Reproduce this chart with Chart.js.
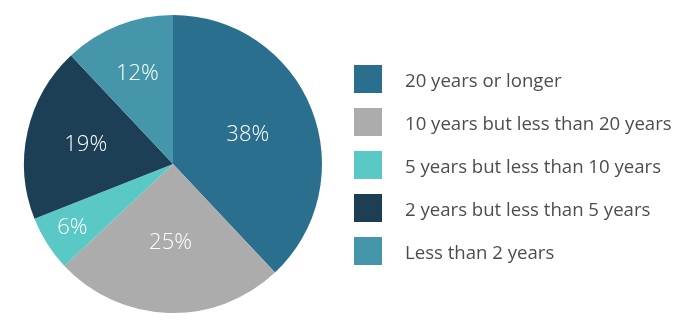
<!DOCTYPE html>
<html>
<head>
<meta charset="utf-8">
<script src="https://cdn.jsdelivr.net/npm/chart.js@4"></script>
<style>
  html, body { margin: 0; padding: 0; background: #fff; }
  .wrap { position: relative; width: 700px; height: 328px; }
  #legend { position: absolute; left: 354px; top: 65px; margin: 0; padding: 0; list-style: none;
    font-family: "Open Sans", sans-serif; font-size: 18.6px; color: #4d4d4d; }
  #legend li { display: flex; align-items: center; height: 28px; margin-bottom: 15px; }
  #legend span { width: 28px; height: 28px; margin-right: 23px; flex: none; }
</style>
</head>
<body>
<div class="wrap">
  <canvas id="chart" width="700" height="328"></canvas>
  <ul id="legend"></ul>
</div>
<script>
const labels = [
  "20 years or longer",
  "10 years but less than 20 years",
  "5 years but less than 10 years",
  "2 years but less than 5 years",
  "Less than 2 years",
]
const shares = [38, 25, 6, 19, 12]
const colors = ["#2b6f8e", "#acacac", "#5ac8c4", "#1d3f56", "#4596aa"]

// how far out each percent label sits, as a share of the radius
const labelDepth = [0.54, 0.53, 0.8, 0.6, 0.65]

const sliceLabels = {
  id: "sliceLabels",
  afterDatasetsDraw(chart) {
    const ctx = chart.ctx
    const meta = chart.getDatasetMeta(0)
    ctx.save()
    ctx.fillStyle = "#ffffff"
    ctx.font = "300 22px 'Open Sans', sans-serif"
    ctx.textAlign = "center"
    ctx.textBaseline = "middle"
    meta.data.forEach((arc, i) => {
      const p = arc.getProps(["x", "y", "startAngle", "endAngle", "outerRadius"], true)
      const mid = (p.startAngle + p.endAngle) / 2
      const r = p.outerRadius * labelDepth[i]
      ctx.fillText(shares[i] + "%", p.x + Math.cos(mid) * r, p.y + Math.sin(mid) * r)
    })
    ctx.restore()
  },
}

new Chart(document.getElementById("chart"), {
  type: "pie",
  data: {
    labels: labels,
    datasets: [
      {
        data: shares,
        backgroundColor: colors,
        borderWidth: 0,
      },
    ],
  },
  options: {
    responsive: false,
    animation: false,
    layout: { padding: { left: 24, right: 378, top: 15, bottom: 15 } },
    plugins: {
      legend: { display: false },
      tooltip: { enabled: false },
    },
  },
  plugins: [sliceLabels],
})

// Legend
const legend = document.getElementById("legend")
labels.forEach((text, i) => {
  const li = document.createElement("li")
  const box = document.createElement("span")
  box.style.background = colors[i]
  li.appendChild(box)
  li.appendChild(document.createTextNode(text))
  legend.appendChild(li)
})
</script>
</body>
</html>
